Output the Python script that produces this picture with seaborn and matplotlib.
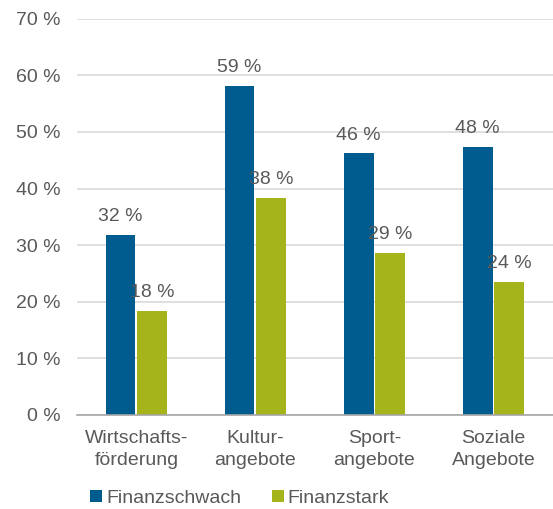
import matplotlib.pyplot as plt
import pandas as pd
import seaborn as sns

categories = ["Wirtschafts-\nförderung", "Kultur-\nangebote", "Sport-\nangebote", "Soziale\nAngebote"]
groups = ["Finanzschwach", "Finanzstark"]
schwach = [31.8, 58.1, 46.2, 47.4]
stark = [18.4, 38.4, 28.6, 23.5]
schwach_labels = ["32 %", "59 %", "46 %", "48 %"]
stark_labels = ["18 %", "38 %", "29 %", "24 %"]
yticks = [0, 10, 20, 30, 40, 50, 60, 70]

colors = ["#005B8F", "#A6B41B"]
text_color = "#595959"

sns.set_theme(style="white")
plt.rcParams["font.family"] = ["Liberation Sans", "DejaVu Sans"]

df = pd.DataFrame({
    "Kategorie": categories * 2,
    "Gruppe": [groups[0]] * 4 + [groups[1]] * 4,
    "Anteil": schwach + stark,
})

fig = plt.figure(figsize=(5.53, 5.09), dpi=100)
ax = fig.add_axes([0.139, 0.185, 0.861, 0.778])

sns.barplot(
    data=df, x="Kategorie", y="Anteil", hue="Gruppe",
    palette=colors, width=0.53, gap=0.06, ax=ax,
    edgecolor="none", saturation=1, errorbar=None,
)

labels = schwach_labels + stark_labels
for patch, label in zip(ax.patches, labels):
    ax.annotate(
        label,
        (patch.get_x() + patch.get_width() / 2, patch.get_height()),
        xytext=(0, 10), textcoords="offset points",
        ha="center", va="baseline", fontsize=14, color=text_color,
    )

ax.set_ylim(0, 70)
ax.set_yticks(yticks)
ax.set_yticklabels([f"{v} %" for v in yticks])
ax.set_xlim(-0.5, 3.5)
ax.yaxis.grid(True, color="#D9D9D9", linewidth=1.2)
ax.set_axisbelow(True)
for side in ["left", "right", "top"]:
    ax.spines[side].set_visible(False)
ax.spines["bottom"].set_color("#A6A6A6")
ax.spines["bottom"].set_linewidth(1.2)
ax.tick_params(axis="both", length=0, labelsize=14, labelcolor=text_color)
ax.tick_params(axis="y", pad=12)
ax.tick_params(axis="x", pad=11)
for tick in ax.get_xticklabels():
    tick.set_linespacing(1.35)
ax.set_xlabel("")
ax.set_ylabel("")

handles, _ = ax.get_legend_handles_labels()
ax.legend_.remove()
fig.legend(
    handles, groups, loc="lower left", bbox_to_anchor=(0.132, -0.03),
    ncol=2, frameon=False, fontsize=14, labelcolor=text_color,
    handlelength=0.6, handleheight=0.6, handletextpad=0.2, columnspacing=1.6,
)

fig.savefig("out.png", dpi=100)
